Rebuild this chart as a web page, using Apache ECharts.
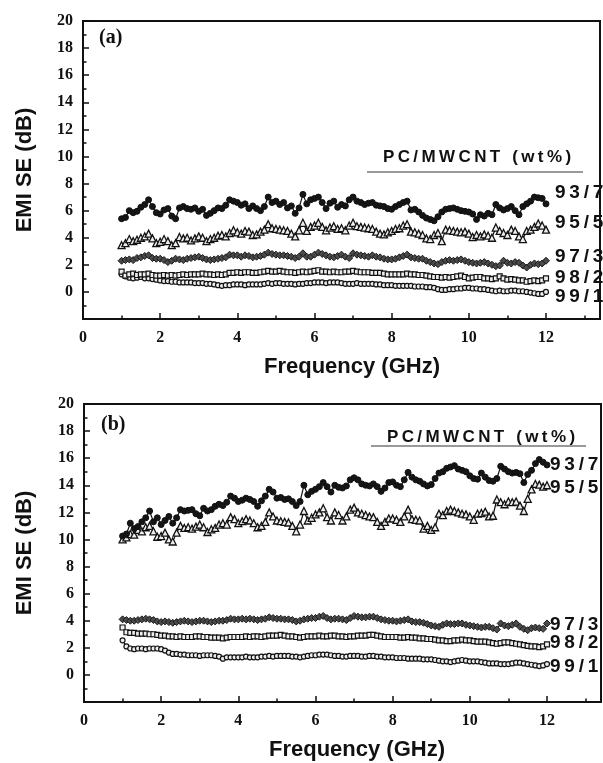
<!DOCTYPE html>
<html><head><meta charset="utf-8">
<script src="https://cdn.jsdelivr.net/npm/echarts@6/dist/echarts.min.js"></script>
<style>html,body{margin:0;padding:0;background:#fff}#c{width:603px;height:763px}</style>
</head><body><div id="c"></div>
<script>
// Frequency grid (GHz): 1.0 to 12.0 by 0.1
const freq = Array.from({length:111},(_,i)=>Math.round((1+i*0.1)*10)/10);
const seriesNames = ['93/7','95/5','97/3','98/2','99/1'];
const xTicks = [0,2,4,6,8,10,12];
const yTicks = [0,2,4,6,8,10,12,14,16,18,20];

// Panel (a)
const a937 = [5.4,5.5,6.0,5.85,5.95,6.25,6.45,6.8,6.3,5.85,
5.75,6.05,6.15,5.6,5.4,6.2,6.3,6.15,6.1,6.2,
5.95,6.1,5.65,5.8,6.0,6.2,6.15,6.4,6.8,6.7,
6.6,6.4,6.5,6.15,6.35,6.15,6.0,6.3,7.0,6.6,
6.7,6.45,6.6,6.2,6.35,5.8,6.2,7.2,6.5,6.8,
6.9,7.0,6.6,6.15,6.55,6.7,6.25,6.45,6.35,6.8,
7.0,6.7,6.6,6.45,6.55,6.6,6.4,6.35,6.3,6.15,
6.1,6.3,6.45,6.6,6.7,6.05,6.1,5.9,5.65,5.45,
5.35,5.25,5.55,5.9,6.1,6.15,6.2,6.1,6.0,5.95,
5.9,5.75,5.35,5.7,5.6,5.8,5.7,6.45,6.2,6.05,
6.15,6.3,6.0,5.7,6.3,6.5,6.7,7.0,6.95,6.9,
6.5];
const a955 = [3.45,3.6,3.9,3.75,3.85,4.0,4.1,4.3,3.95,3.6,
3.7,3.9,3.75,3.45,3.6,4.05,3.95,4.0,3.8,3.95,
4.1,4.0,3.75,3.9,4.0,4.15,4.2,4.1,4.35,4.55,
4.4,4.3,4.5,4.45,4.2,4.25,4.45,4.6,5.0,4.7,
4.65,4.6,4.55,4.5,4.3,4.1,4.55,5.1,4.5,4.8,
4.9,5.1,4.8,4.55,4.75,4.85,4.65,4.7,4.55,4.9,
5.1,4.85,4.8,4.75,4.7,4.65,4.45,4.3,4.25,4.4,
4.5,4.65,4.7,4.9,5.0,4.45,4.4,4.3,4.2,3.95,
3.9,4.2,4.35,3.75,4.6,4.55,4.5,4.45,4.4,4.45,
4.3,4.05,4.2,4.1,4.25,4.15,4.0,4.75,4.5,4.35,
4.2,4.6,4.5,4.1,3.9,4.5,4.6,4.8,5.05,4.9,
4.6];
const a973 = [2.3,2.35,2.4,2.35,2.5,2.55,2.65,2.7,2.5,2.45,
2.45,2.35,2.2,2.3,2.45,2.4,2.35,2.45,2.5,2.55,
2.6,2.5,2.4,2.35,2.4,2.45,2.5,2.55,2.75,2.7,
2.7,2.6,2.7,2.65,2.55,2.6,2.65,2.75,2.9,2.8,
2.75,2.7,2.7,2.65,2.6,2.5,2.6,2.85,2.6,2.6,
2.75,2.9,2.8,2.7,2.6,2.55,2.65,2.75,2.6,2.5,
2.85,2.75,2.7,2.65,2.6,2.7,2.6,2.55,2.45,2.4,
2.4,2.45,2.55,2.65,2.75,2.55,2.5,2.45,2.45,2.3,
2.2,2.1,2.05,2.2,2.3,2.35,2.3,2.35,2.4,2.3,
2.2,2.15,2.1,2.15,2.2,2.1,2.0,1.9,1.95,2.3,
2.15,2.1,2.2,2.15,1.95,1.8,2.0,2.1,2.05,2.1,
2.3];
const a982 = [1.5,1.2,1.3,1.35,1.25,1.3,1.3,1.35,1.25,1.2,
1.2,1.25,1.2,1.25,1.2,1.25,1.3,1.25,1.3,1.3,
1.3,1.35,1.3,1.3,1.25,1.3,1.25,1.3,1.4,1.4,
1.45,1.4,1.45,1.45,1.4,1.4,1.45,1.5,1.55,1.5,
1.5,1.55,1.5,1.45,1.45,1.4,1.45,1.5,1.45,1.5,
1.55,1.6,1.5,1.5,1.45,1.5,1.45,1.45,1.5,1.5,
1.55,1.5,1.45,1.45,1.45,1.4,1.4,1.4,1.35,1.3,
1.3,1.3,1.3,1.3,1.35,1.3,1.3,1.25,1.25,1.2,
1.15,1.1,1.1,1.05,1.1,1.05,1.1,1.15,1.2,1.1,
1.0,1.05,1.1,1.1,1.0,1.0,0.95,1.0,1.15,1.0,
0.9,0.95,0.9,0.85,0.85,0.75,0.8,0.85,0.8,0.85,
1.0];
const a991 = [1.3,1.15,1.05,1.0,1.05,1.1,1.0,1.0,0.95,0.9,
0.85,0.8,0.8,0.75,0.75,0.7,0.7,0.7,0.7,0.65,
0.65,0.65,0.6,0.6,0.55,0.5,0.45,0.5,0.5,0.55,
0.55,0.55,0.5,0.55,0.55,0.55,0.55,0.6,0.65,0.6,
0.65,0.65,0.6,0.6,0.6,0.55,0.6,0.6,0.65,0.65,
0.7,0.7,0.7,0.65,0.7,0.7,0.7,0.65,0.6,0.6,
0.6,0.65,0.6,0.6,0.6,0.6,0.55,0.55,0.5,0.5,
0.5,0.45,0.45,0.45,0.45,0.45,0.4,0.4,0.4,0.35,
0.35,0.3,0.2,0.15,0.15,0.2,0.2,0.25,0.25,0.3,
0.3,0.25,0.25,0.2,0.2,0.15,0.1,0.05,0.1,0.05,
0.05,0.1,0.1,0.05,0.05,0.0,-0.05,-0.1,-0.15,-0.15,
0.0];

// Panel (b)
const b937 = [10.25,10.4,11.2,10.8,10.95,11.3,11.6,12.1,11.3,11.6,
11.1,11.4,11.7,11.2,11.6,12.2,12.1,12.15,12.2,11.9,
11.75,12.3,12.1,12.2,12.45,12.6,12.5,12.75,13.2,13.05,
12.8,12.9,13.05,12.95,12.8,12.45,12.85,13.2,13.7,13.5,
13.05,13.1,12.95,13.0,12.8,12.5,12.8,14.0,13.3,13.55,
13.7,13.9,14.2,13.9,13.5,14.0,13.85,13.8,13.95,14.4,
14.55,14.4,14.1,14.0,13.95,14.1,13.9,13.55,13.8,14.2,
14.25,14.0,13.9,14.4,14.95,14.6,14.4,14.3,14.1,13.95,
14.05,14.5,14.9,15.0,15.25,15.35,15.45,15.2,15.1,15.0,
14.7,14.5,14.45,14.9,14.6,14.35,14.3,14.5,15.4,15.2,
15.0,14.9,14.95,14.85,14.2,14.8,15.1,15.6,15.9,15.7,
15.5];
const b955 = [10.0,10.15,10.4,10.35,10.7,10.6,10.9,11.0,10.6,10.2,
10.25,10.5,10.0,9.85,10.5,11.0,10.85,10.9,10.8,10.95,
11.1,10.9,10.55,10.75,10.85,11.1,11.2,11.1,11.65,11.5,
11.2,11.35,11.5,11.4,11.2,10.9,11.0,11.3,12.0,11.7,
11.4,11.35,11.3,11.25,11.0,10.6,11.1,12.1,11.4,11.6,
11.85,12.0,12.3,11.65,11.4,12.0,11.8,11.4,11.7,12.2,
12.35,12.0,11.9,11.8,11.7,11.65,11.3,11.0,11.3,11.55,
11.55,11.45,11.3,11.7,12.2,11.5,11.45,11.4,10.8,11.0,
10.7,10.9,11.9,11.8,12.1,12.2,12.1,12.0,11.9,11.85,
11.7,11.45,11.9,11.95,12.05,11.7,11.75,12.95,12.75,12.6,
12.8,12.75,12.8,12.5,12.1,13.0,13.7,14.1,14.05,13.9,
14.0];
const b973 = [4.1,4.05,4.0,4.0,4.05,4.1,4.15,4.1,4.05,3.95,
3.9,3.95,3.9,3.85,3.9,3.95,4.0,3.95,3.9,3.95,
4.0,4.0,3.95,3.9,3.95,4.0,4.0,4.05,4.15,4.1,
4.1,4.15,4.1,4.15,4.1,4.05,4.1,4.15,4.25,4.2,
4.15,4.15,4.1,4.1,4.05,3.95,4.0,4.1,4.15,4.2,
4.2,4.3,4.35,4.2,4.1,4.15,4.15,4.1,4.05,4.2,
4.35,4.3,4.25,4.25,4.3,4.3,4.2,4.1,4.05,4.0,
4.0,3.95,4.0,4.05,4.1,3.95,3.9,3.9,3.85,3.75,
3.65,3.6,3.55,3.7,3.8,3.75,3.75,3.8,3.8,3.7,
3.65,3.6,3.55,3.5,3.55,3.55,3.45,3.35,3.8,3.65,
3.6,3.7,3.8,3.55,3.4,3.3,3.45,3.5,3.45,3.4,
3.8];
const b982 = [3.5,3.15,3.1,3.1,3.05,3.05,3.05,3.0,3.0,2.95,
2.9,2.9,2.85,2.85,2.8,2.85,2.8,2.8,2.8,2.85,
2.85,2.8,2.8,2.75,2.75,2.75,2.7,2.75,2.8,2.8,
2.8,2.8,2.85,2.8,2.85,2.85,2.8,2.85,2.9,2.9,
2.9,2.95,2.9,2.85,2.85,2.8,2.75,2.8,2.85,2.85,
2.85,2.9,2.85,2.85,2.9,2.9,2.85,2.85,2.8,2.85,
2.85,2.9,2.9,2.9,2.95,2.95,2.9,2.85,2.8,2.8,
2.8,2.8,2.75,2.75,2.8,2.75,2.75,2.7,2.7,2.65,
2.65,2.6,2.55,2.55,2.5,2.5,2.55,2.55,2.6,2.55,
2.55,2.5,2.45,2.45,2.45,2.4,2.35,2.3,2.35,2.4,
2.4,2.35,2.3,2.25,2.2,2.15,2.1,2.1,2.05,2.1,
2.25];
const b991 = [2.55,2.1,1.95,1.9,1.95,1.95,1.9,1.95,1.95,1.95,
1.9,1.8,1.65,1.55,1.55,1.5,1.5,1.45,1.45,1.45,
1.4,1.45,1.45,1.45,1.4,1.35,1.2,1.3,1.3,1.3,
1.3,1.3,1.35,1.3,1.3,1.3,1.35,1.35,1.4,1.35,
1.4,1.4,1.4,1.4,1.35,1.35,1.3,1.35,1.4,1.45,
1.45,1.5,1.5,1.5,1.45,1.4,1.4,1.35,1.35,1.4,
1.4,1.4,1.35,1.35,1.4,1.4,1.35,1.35,1.3,1.3,
1.3,1.25,1.25,1.25,1.2,1.2,1.2,1.2,1.15,1.15,
1.15,1.1,1.05,1.0,1.0,0.95,1.0,1.05,1.1,1.05,
1.0,1.0,1.0,0.95,0.9,0.85,0.85,0.85,0.8,0.8,
0.8,0.85,0.9,0.9,0.85,0.8,0.75,0.7,0.65,0.7,
0.8];

const panelA = [a937,a955,a973,a982,a991];
const panelB = [b937,b955,b973,b982,b991];

const markerStyles = [
  {symbol:'circle', symbolSize:6, itemStyle:{color:'#151515', borderColor:'#111', borderWidth:1}},
  {symbol:'triangle', symbolSize:7, itemStyle:{color:'#eee', borderColor:'#111', borderWidth:1.3}},
  {symbol:'diamond', symbolSize:7, itemStyle:{color:'#4a4a4a', borderColor:'#1a1a1a', borderWidth:1}},
  {symbol:'rect', symbolSize:5, itemStyle:{color:'#eee', borderColor:'#111', borderWidth:1.2}},
  {symbol:'circle', symbolSize:5, itemStyle:{color:'#eee', borderColor:'#111', borderWidth:1.2}}
];

const serifLbl = {fontFamily:'Liberation Serif', fontWeight:'bold', fontSize:16, color:'#111'};
const X_MAX = 13.4;

function xAxes(gi){
  return [
    {type:'value', gridIndex:gi, min:0, max:X_MAX, interval:2,
     axisLine:{onZero:false, lineStyle:{color:'#111', width:2}},
     axisTick:{inside:true, length:6, lineStyle:{color:'#111', width:1.5}},
     axisLabel:Object.assign({margin:11, showMaxLabel:false, formatter:v=>xTicks.indexOf(v)>=0?String(v):''}, serifLbl),
     splitLine:{show:false}},
    {type:'value', gridIndex:gi, min:0, max:X_MAX, interval:1, position:'bottom',
     axisLine:{show:false, onZero:false},
     axisTick:{inside:true, length:3.5, lineStyle:{color:'#111', width:1.5}},
     axisLabel:{show:false}, splitLine:{show:false}}
  ];
}
function yAxis(gi){
  return {type:'value', gridIndex:gi, min:-2, max:20, interval:2,
    axisLine:{onZero:false, lineStyle:{color:'#111', width:2}},
    axisTick:{inside:true, length:6, lineStyle:{color:'#111', width:1.5}},
    minorTick:{show:true, splitNumber:2, length:3.5, lineStyle:{color:'#111', width:1.5}},
    axisLabel:Object.assign({margin:10, formatter:v=>yTicks.indexOf(v)>=0?String(v):''}, serifLbl),
    splitLine:{show:false}, minorSplitLine:{show:false}};
}

const series = [];
[panelA, panelB].forEach((panel, gi)=>{
  panel.forEach((vals, k)=>{
    series.push(Object.assign({
      type:'line', name:seriesNames[k], xAxisIndex:gi*2, yAxisIndex:gi,
      data:freq.map((f,i)=>[f, vals[i]]),
      lineStyle:{color:'#111', width:1.2}, showSymbol:true, animation:false, z:5-k
    }, markerStyles[k]));
  });
});

const chart = echarts.init(document.getElementById('c'), null, {renderer:'canvas'});
const TH = '\u2009';
const spaced = s => s.split('').join(TH);
const sansB = size => 'bold '+size+'px "Liberation Sans", Arial, sans-serif';
const serifB = size => 'bold '+size+'px "Liberation Serif", "Times New Roman", serif';

function txt(x,y,text,font,opts){
  return Object.assign({type:'text', x:x, y:y, silent:true,
    style:{text:text, font:font, fill:'#111', textAlign:'left', textVerticalAlign:'middle', align:'left', verticalAlign:'middle'}}, opts||{});
}
function ctxt(x,y,text,font,rot){
  const t = txt(x,y,text,font,{rotation:rot||0});
  t.style.textAlign='center'; t.style.align='center';
  return t;
}

const labelsA = [[555,193],[555,223],[555,257],[555,278],[555,297]];
const labelsB = [[550,465],[550,488],[550,625],[550,643],[550,667]];
const legendTitle = spaced('PC/MWCNT')+'\u2002\u2009'+spaced('(wt%)');

const graphic = [
  ctxt(352,367,'Frequency (GHz)',sansB(22)),
  ctxt(357,750,'Frequency (GHz)',sansB(22)),
  ctxt(25,170,'EMI SE (dB)',sansB(22),Math.PI/2),
  ctxt(25,553,'EMI SE (dB)',sansB(22),Math.PI/2),
  txt(99,38,'(a)',serifB(20)),
  txt(101,425,'(b)',serifB(20)),
  ctxt(477,157,legendTitle,sansB(17)),
  ctxt(481,437,legendTitle,sansB(17)),
  {type:'line', silent:true, shape:{x1:367,y1:172,x2:583,y2:172}, style:{stroke:'#777', lineWidth:1.5}},
  {type:'line', silent:true, shape:{x1:371,y1:446,x2:586,y2:446}, style:{stroke:'#777', lineWidth:1.5}}
];
seriesNames.forEach((n,k)=>{
  graphic.push(txt(labelsA[k][0],labelsA[k][1],spaced(n),sansB(19)));
  graphic.push(txt(labelsB[k][0],labelsB[k][1],spaced(n),sansB(19)));
});

chart.setOption({
  animation:false,
  backgroundColor:'#fff',
  grid:[
    {left:83, top:21, width:517, height:298, show:true, borderColor:'#111', borderWidth:2, backgroundColor:'transparent'},
    {left:84, top:404, width:517, height:298, show:true, borderColor:'#111', borderWidth:2, backgroundColor:'transparent'}
  ],
  xAxis:[...xAxes(0), ...xAxes(1)],
  yAxis:[yAxis(0), yAxis(1)],
  series:series,
  graphic:graphic
});
</script></body></html>
